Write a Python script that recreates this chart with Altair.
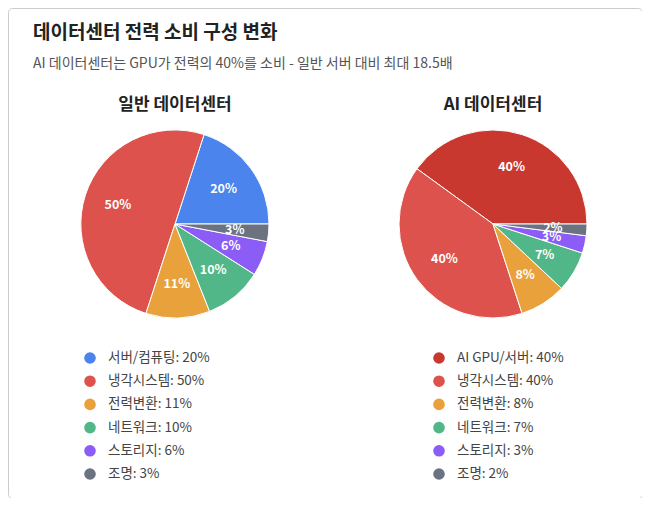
import math

import altair as alt
import pandas as pd

datasets = ["일반 데이터센터", "AI 데이터센터"]

general_categories = ["서버/컴퓨팅", "냉각시스템", "전력변환", "네트워크", "스토리지", "조명"]
general_values = [20, 50, 11, 10, 6, 3]

ai_categories = ["AI GPU/서버", "냉각시스템", "전력변환", "네트워크", "스토리지", "조명"]
ai_values = [40, 40, 8, 7, 3, 2]

color_domain = ["서버/컴퓨팅", "AI GPU/서버", "냉각시스템", "전력변환", "네트워크", "스토리지", "조명"]
color_range = ["#4A84EC", "#C9382F", "#DD524C", "#E9A23B", "#52B788", "#8B5CF6", "#6B7280"]

FONT = "Noto Sans CJK KR"

rows = []
for name, cats, vals in [(datasets[0], general_categories, general_values),
                         (datasets[1], ai_categories, ai_values)]:
    for i, (c, v) in enumerate(zip(cats, vals)):
        rows.append(dict(dataset=name, category=c, value=v, idx=i,
                         pct=f"{v}%", legend=f"{c}: {v}%"))
df = pd.DataFrame(rows)

# slices run counter-clockwise from 3 o'clock, so stack in reverse order
stacked = (
    alt.Chart(df)
    .transform_stack(stack="value", groupby=["dataset"], as_=["v0", "v1"],
                     sort=[alt.SortField("idx", order="descending")])
    .transform_calculate(mid="(datum.v0 + datum.v1) / 2")
)

pie_x = alt.X("dataset:N",
              scale=alt.Scale(type="point", domain=datasets, range=[167, 485], padding=0),
              axis=None)
theta_scale = alt.Scale(domain=[0, 100], range=[math.pi / 2, 2.5 * math.pi])
color = alt.Color("category:N", scale=alt.Scale(domain=color_domain, range=color_range), legend=None)

arcs = stacked.mark_arc(outerRadius=94, stroke="white", strokeWidth=1).encode(
    x=pie_x,
    y=alt.value(216),
    theta=alt.Theta("v0:Q", scale=theta_scale),
    theta2="v1:Q",
    color=color,
)

labels = stacked.mark_text(radius=60, font=FONT, fontSize=12.5, fontWeight="bold",
                           color="white", align="center", baseline="middle").encode(
    x=pie_x,
    y=alt.value(216),
    theta=alt.Theta("mid:Q", scale=theta_scale),
    text="pct:N",
)

pie_titles = alt.Chart(pd.DataFrame({"dataset": datasets})).mark_text(
    font=FONT, fontSize=17, fontWeight="bold", color="#222222", baseline="middle"
).encode(
    x=pie_x,
    y=alt.value(97),
    text="dataset:N",
)

leg_x = alt.X("dataset:N",
              scale=alt.Scale(type="point", domain=datasets, range=[82, 431], padding=0),
              axis=None)
leg_y = alt.Y("idx:O", scale=alt.Scale(type="point", range=[350, 466], padding=0), axis=None)

leg_dots = alt.Chart(df).mark_circle(size=135, opacity=1).encode(
    x=leg_x, y=leg_y, color=color,
)
leg_text = alt.Chart(df).mark_text(
    font=FONT, fontSize=13.5, color="#444444", align="left", baseline="middle", dx=18
).encode(
    x=leg_x, y=leg_y, text="legend:N",
)

chart = (
    alt.layer(arcs, labels, pie_titles, leg_dots, leg_text)
    .resolve_scale(x="independent", y="independent")
    .properties(
        width=634,
        height=490,
        padding=0,
        autosize=alt.AutoSizeParams(type="none"),
        title=alt.Title(
            text="데이터센터 전력 소비 구성 변화",
            subtitle="AI 데이터센터는 GPU가 전력의 40%를 소비 - 일반 서버 대비 최대 18.5배",
            anchor="start",
            dx=25,
            dy=67,
        ),
    )
    .configure_title(
        font=FONT,
        fontSize=19,
        fontWeight="bold",
        color="#222222",
        subtitleFont=FONT,
        subtitleFontSize=14,
        subtitleColor="#555555",
        subtitlePadding=14,
    )
    .configure_view(stroke="#CCCCCC", cornerRadius=4)
)

chart.save("out.html", embed_options={"renderer": "svg", "actions": False})
